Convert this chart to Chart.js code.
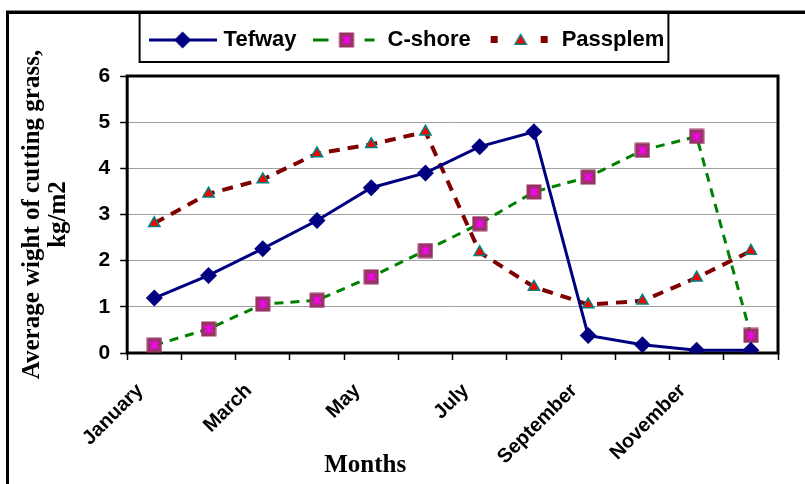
<!DOCTYPE html>
<html>
<head>
<meta charset="utf-8">
<script src="https://cdn.jsdelivr.net/npm/chart.js@4.4.0/dist/chart.umd.min.js"></script>
<style>
	html, body { margin: 0; padding: 0; background: #fff; }
	#wrap { position: relative; width: 805px; height: 484px; overflow: hidden; }
	#frame {
		position: absolute; left: 6px; top: 11px; width: 900px; height: 600px;
		border-top: 3px solid #000; border-left: 3px solid #000;
		box-shadow: 0 -1px 0 #888; pointer-events: none;
	}
</style>
</head>
<body>
<div id="wrap">
	<canvas id="chart" width="805" height="484"></canvas>
	<div id="frame"></div>
</div>
<script>
const months = ["January", "February", "March", "April", "May", "June",
	"July", "August", "September", "October", "November", "December"];
const tefway = [1.19, 1.68, 2.26, 2.87, 3.58, 3.90, 4.47, 4.79, 0.38, 0.18, 0.06, 0.06];
const cShore = [0.17, 0.52, 1.06, 1.14, 1.65, 2.22, 2.80, 3.49, 3.81, 4.39, 4.69, 0.38];
const passplem = [2.81, 3.45, 3.76, 4.32, 4.52, 4.79, 2.18, 1.43, 1.05, 1.13, 1.63, 2.21];
const yMin = 0;
const yMax = 6;
const yStep = 1;

const NAVY = "#000080";
const GREEN = "#008000";
const DARKRED = "#800000";

// plum square with a magenta asterisk (C-shore marker)
function drawSquare(ctx, cx, cy, s) {
	ctx.fillStyle = "#993366";
	ctx.fillRect(cx - s / 2, cy - s / 2, s, s);
	ctx.strokeStyle = "#ff00ff";
	ctx.lineWidth = 1.6;
	ctx.beginPath();
	ctx.moveTo(cx, cy - 4.5); ctx.lineTo(cx, cy + 4.5);
	ctx.moveTo(cx - 4, cy - 3); ctx.lineTo(cx + 4, cy + 3);
	ctx.moveTo(cx - 4, cy + 3); ctx.lineTo(cx + 4, cy - 3);
	ctx.stroke();
}

function drawTri(ctx, cx, cy, r) {
	ctx.beginPath();
	ctx.moveTo(cx, cy - r);
	ctx.lineTo(cx + r * 0.866, cy + r * 0.5);
	ctx.lineTo(cx - r * 0.866, cy + r * 0.5);
	ctx.closePath();
	ctx.fillStyle = "#ff0000";
	ctx.fill();
	ctx.strokeStyle = "#008080";
	ctx.lineWidth = 1.5;
	ctx.stroke();
}

function makeCanvas(w, h, fn) {
	const c = document.createElement("canvas");
	c.width = w;
	c.height = h;
	fn(c.getContext("2d"));
	return c;
}

const squareMarker = makeCanvas(16, 16, (ctx) => drawSquare(ctx, 8, 8, 15));

const legW = 68;
const tefIcon = makeCanvas(legW, 20, (ctx) => {
	ctx.strokeStyle = NAVY; ctx.lineWidth = 3;
	ctx.beginPath(); ctx.moveTo(0, 10); ctx.lineTo(legW, 10); ctx.stroke();
	ctx.fillStyle = NAVY;
	ctx.beginPath();
	ctx.moveTo(34 - 8.5, 10); ctx.lineTo(34, 1.5); ctx.lineTo(34 + 8.5, 10); ctx.lineTo(34, 18.5);
	ctx.closePath(); ctx.fill();
});
const cShoreIcon = makeCanvas(legW, 20, (ctx) => {
	ctx.strokeStyle = GREEN; ctx.lineWidth = 3;
	ctx.beginPath();
	ctx.moveTo(0, 10); ctx.lineTo(16, 10);
	ctx.moveTo(52, 10); ctx.lineTo(62, 10);
	ctx.stroke();
	drawSquare(ctx, 34, 10, 15);
});
const passIcon = makeCanvas(legW, 20, (ctx) => {
	ctx.fillStyle = DARKRED;
	ctx.fillRect(4, 6, 7, 7);
	ctx.fillRect(54, 6, 7, 7);
	drawTri(ctx, 34, 11, 6.5);
});

const chartBits = {
	id: "chartBits",
	afterLayout(chart) {
		// legend sits a little right of the page centre in the original
		chart.legend.left += 10;
		chart.legend.right += 10;
	},
	beforeDatasetsDraw(chart) {
		const { ctx, chartArea: a } = chart;
		ctx.save();
		ctx.strokeStyle = "#000";
		ctx.lineWidth = 3;
		ctx.strokeRect(a.left, a.top, a.right - a.left, a.bottom - a.top);
		ctx.restore();
	},
	afterDraw(chart) {
		const { ctx, chartArea: a } = chart;
		ctx.save();
		// legend frame
		const boxes = chart.legend.legendHitBoxes;
		if (boxes && boxes.length) {
			const l = Math.min(...boxes.map((b) => b.left)) - 13;
			const r = Math.max(...boxes.map((b) => b.left + b.width)) + 4;
			ctx.strokeStyle = "#000";
			ctx.lineWidth = 2;
			ctx.strokeRect(l, 13, r - l, 49);
		}
		// x axis title, set left of centre as in the original
		ctx.fillStyle = "#000";
		ctx.font = "bold 25px 'Liberation Serif'";
		ctx.textAlign = "center";
		ctx.textBaseline = "alphabetic";
		ctx.fillText("Months", a.left + 238, 472);
		ctx.restore();
	},
};

const ctx = document.getElementById("chart").getContext("2d");

new Chart(ctx, {
	type: "line",
	data: {
		labels: months,
		datasets: [
			{
				label: "Tefway",
				data: tefway,
				borderColor: NAVY,
				backgroundColor: NAVY,
				borderWidth: 3,
				pointStyle: "rectRot",
				pointRadius: 8.5,
				pointBorderWidth: 0,
				tension: 0,
			},
			{
				label: "C-shore",
				data: cShore,
				borderColor: GREEN,
				backgroundColor: "#993366",
				borderWidth: 3,
				borderDash: [9, 7],
				pointStyle: squareMarker,
				tension: 0,
			},
			{
				label: "Passplem",
				data: passplem,
				borderColor: DARKRED,
				backgroundColor: "#ff0000",
				pointBorderColor: "#008080",
				pointBorderWidth: 1.5,
				borderWidth: 4,
				borderDash: [11, 8],
				pointStyle: "triangle",
				pointRadius: 6.5,
				tension: 0,
			},
		],
	},
	options: {
		responsive: false,
		animation: false,
		layout: {
			padding: { left: 19, right: 27, top: 9, bottom: 0 },
		},
		plugins: {
			tooltip: { enabled: false },
			// empty title used as a spacer between legend and plot
			title: {
				display: true,
				text: "",
				weight: 0,
				padding: 0,
				font: { size: 15, lineHeight: 1 },
			},
			legend: {
				display: true,
				position: "top",
				labels: {
					usePointStyle: true,
					pointStyleWidth: 60,
					padding: 20,
					color: "#000",
					font: { family: "'Liberation Sans', Arial", size: 22, weight: "bold" },
					generateLabels: () => [
						{ text: "Tefway", pointStyle: tefIcon, datasetIndex: 0, lineWidth: 0 },
						{ text: "C-shore", pointStyle: cShoreIcon, datasetIndex: 1, lineWidth: 0 },
						{ text: "Passplem", pointStyle: passIcon, datasetIndex: 2, lineWidth: 0 },
					],
				},
			},
		},
		scales: {
			x: {
				offset: true,
				border: { display: false },
				afterFit: (scale) => { scale.height = 131; },
				grid: {
					offset: true,
					drawOnChartArea: false,
					drawTicks: true,
					tickLength: 7,
					tickColor: "#000",
					tickWidth: 1.5,
				},
				ticks: {
					autoSkip: false,
					minRotation: 45,
					maxRotation: 45,
					padding: 19,
					labelOffset: -14,
					color: "#000",
					font: { family: "'Liberation Sans', Arial", size: 20, weight: "bold" },
					callback: (v, i) => (i % 2 === 0 ? months[i] : ""),
				},
			},
			y: {
				min: yMin,
				max: yMax,
				border: { display: false },
				grid: {
					color: "#a0a0a0",
					lineWidth: 1,
					tickColor: "#000",
					tickLength: 7,
					tickWidth: 1.5,
				},
				ticks: {
					stepSize: yStep,
					padding: 10,
					color: "#000",
					font: { family: "'Liberation Sans', Arial", size: 21, weight: "bold" },
				},
				title: {
					display: true,
					text: ["Average wight of cutting grass,", "kg/m2"],
					color: "#000",
					padding: { top: 0, bottom: 17 },
					font: { family: "'Liberation Serif', 'Times New Roman'", size: 25, weight: "bold", lineHeight: 1.05 },
				},
			},
		},
	},
	plugins: [chartBits],
});
</script>
</body>
</html>
